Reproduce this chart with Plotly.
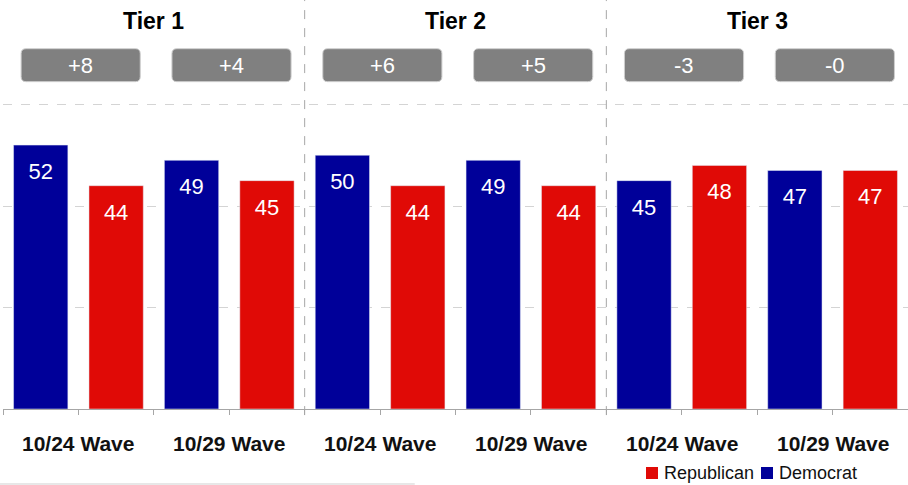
import plotly.graph_objects as go

tiers = ["Tier 1", "Tier 2", "Tier 3"]
waves = ["10/24 Wave", "10/29 Wave"]
dem = [52, 49, 50, 49, 45, 47]
rep = [44, 45, 44, 44, 48, 47]
net = ["+8", "+4", "+6", "+5", "-3", "-0"]

BLUE = "#000099"
RED = "#E00A06"
FONT = "Liberation Sans, Arial, sans-serif"

n = len(dem)
x_dem = [2 * i for i in range(n)]
x_rep = [2 * i + 1 for i in range(n)]
group_c = [2 * i + 0.5 for i in range(n)]

fig = go.Figure()
fig.add_trace(go.Bar(x=x_rep, y=rep, marker_color=RED, width=0.72, name="Republican",
                     showlegend=False, hoverinfo="skip"))
fig.add_trace(go.Bar(x=x_dem, y=dem, marker_color=BLUE, width=0.72, name="Democrat",
                     showlegend=False, hoverinfo="skip"))
fig.add_trace(go.Scatter(x=x_dem + x_rep, y=[v - 5.6 for v in dem + rep], mode="text",
                         text=[str(v) for v in dem + rep],
                         textfont=dict(color="white", size=22, family=FONT),
                         showlegend=False, hoverinfo="skip"))

shapes = []
annotations = []
# tier separators
for t in range(1, len(tiers)):
    xs = t * 4 - 0.5
    shapes.append(dict(type="line", xref="x", yref="paper", x0=xs, x1=xs, y0=-0.015, y1=1.01,
                       line=dict(color="#a6a6a6", width=1, dash="dash")))
# tier titles
for t, name in enumerate(tiers):
    annotations.append(dict(x=t * 4 + 1.5, y=76.5, xref="x", yref="y", text="<b>%s</b>" % name,
                            showarrow=False, font=dict(size=23, color="black", family=FONT)))
# net boxes
rx, ry = 0.066, 0.985
hw = 0.79
y0b, y1b = 64.5, 71.0
for i, lab in enumerate(net):
    c = group_c[i] + 0.03
    a, b = c - hw, c + hw
    path = (f"M{a + rx},{y0b} L{b - rx},{y0b} Q{b},{y0b} {b},{y0b + ry} "
            f"L{b},{y1b - ry} Q{b},{y1b} {b - rx},{y1b} L{a + rx},{y1b} "
            f"Q{a},{y1b} {a},{y1b - ry} L{a},{y0b + ry} Q{a},{y0b} {a + rx},{y0b} Z")
    shapes.append(dict(type="path", xref="x", yref="y", path=path, fillcolor="#808080",
                       line=dict(color="#cfcfcf", width=1), layer="above"))
    annotations.append(dict(x=c, y=(y0b + y1b) / 2, xref="x", yref="y", text=lab, showarrow=False,
                            font=dict(size=22, color="white", family=FONT)))
    annotations.append(dict(x=group_c[i], y=-0.086, xref="x", yref="paper", text="<b>%s</b>" % waves[i % 2],
                            showarrow=False, yanchor="middle",
                            font=dict(size=21, color="#111111", family=FONT)))
# bottom frame line fragment
shapes.append(dict(type="line", xref="paper", yref="paper", x0=-0.008, x1=0.455, y0=-0.1847, y1=-0.1847,
                   line=dict(color="#d0d0d0", width=1)))

# custom legend (Republican, Democrat)
def px_x(p):
    return (p - 3) / 905.0

def px_y(p):
    return (409 - p) / 406.0

legend_items = [("Republican", RED, 646), ("Democrat", BLUE, 761)]
for name, col, sx in legend_items:
    shapes.append(dict(type="rect", xref="paper", yref="paper", x0=px_x(sx), x1=px_x(sx + 12),
                       y0=px_y(479), y1=px_y(467), fillcolor=col, line=dict(width=0)))
    annotations.append(dict(x=px_x(sx + 16), y=px_y(473), xref="paper", yref="paper", text=name,
                            showarrow=False, xanchor="left", yanchor="middle",
                            font=dict(size=18, color="#111111", family=FONT)))

fig.update_layout(
    width=908, height=485,
    margin=dict(l=3, r=0, t=3, b=76, autoexpand=False),
    plot_bgcolor="white", paper_bgcolor="white",
    barmode="overlay",
    shapes=shapes, annotations=annotations,
    font=dict(family=FONT),
    showlegend=False,
)
fig.update_xaxes(range=[-0.5, 2 * n - 0.5], tickvals=[i - 0.5 for i in range(2 * n + 1)],
                 ticktext=[""] * (2 * n + 1), ticks="outside", ticklen=5, tickcolor="#a6a6a6",
                 showline=True, linecolor="#a6a6a6", linewidth=1, showgrid=False, zeroline=False,
                 fixedrange=True)
fig.update_yaxes(range=[0, 80], tickvals=[20, 40, 60, 80], showticklabels=False, showgrid=True,
                 gridcolor="#d4d4d4", griddash="dash", gridwidth=1, zeroline=False, showline=False,
                 fixedrange=True)

fig.write_html("out.html", config={"displayModeBar": False},
               post_script="document.body.style.margin='0px';")
